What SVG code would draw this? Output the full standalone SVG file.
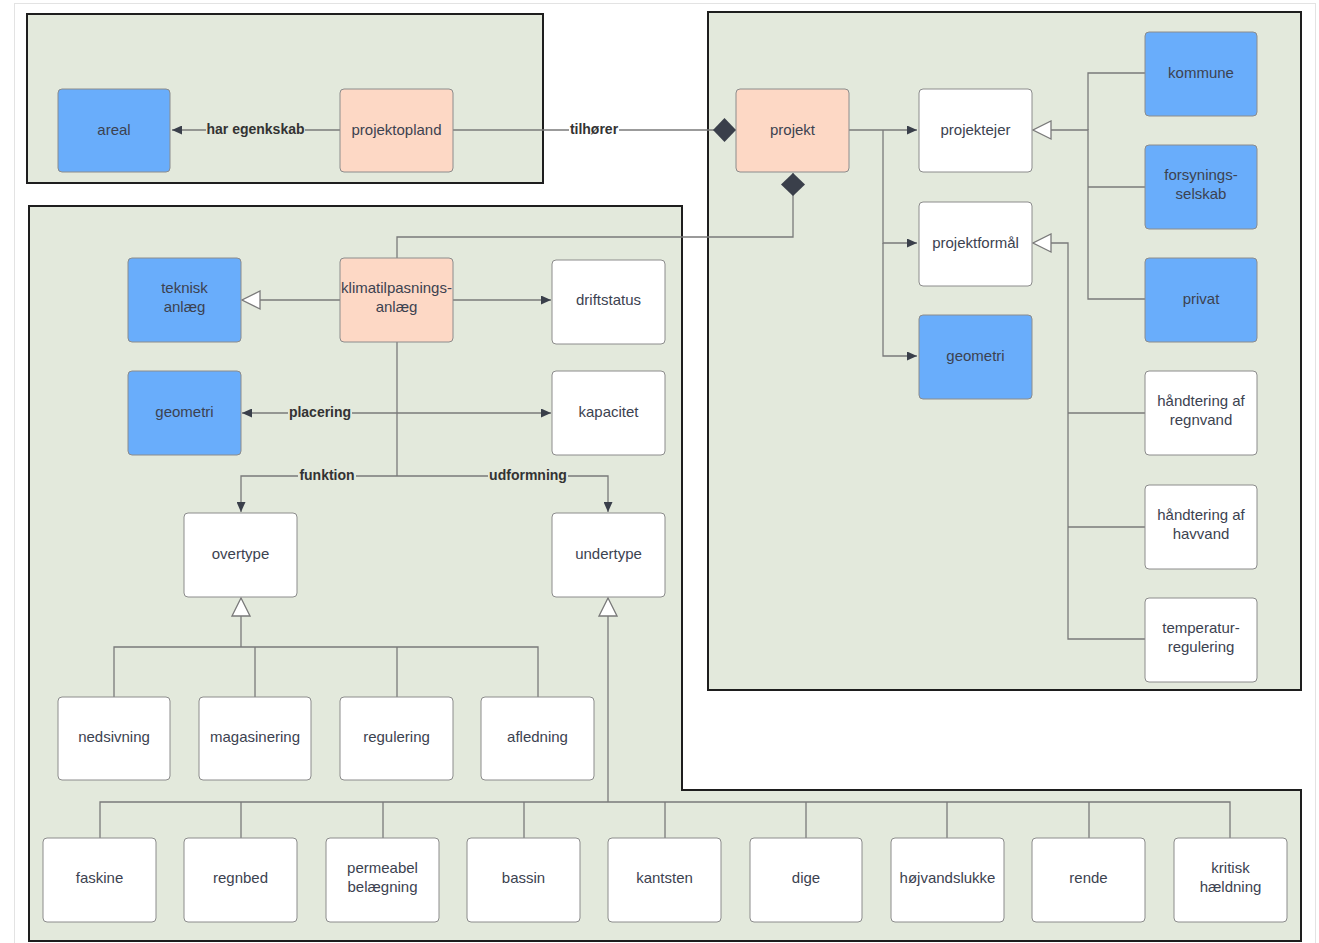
<svg xmlns="http://www.w3.org/2000/svg" width="1319" height="943" viewBox="0 0 1319 943">
<defs>
<style>
.cont{fill:#e3e9dc;stroke:#1e1e1e;stroke-width:2}
.n rect{stroke:#8c8c8c;stroke-width:1}
.w rect{fill:#ffffff}
.b rect{fill:#69adfb}
.p rect{fill:#fdd8c5}
.n text{font-family:"Liberation Sans",Arial,sans-serif;font-size:15px;fill:#3c4250;text-anchor:middle}
.c{fill:none;stroke:#7a7a7a;stroke-width:1.3}
.lbl{font-family:"Liberation Sans",Arial,sans-serif;font-size:14px;font-weight:bold;fill:#333;text-anchor:middle}
</style>
<marker id="arr" markerUnits="userSpaceOnUse" markerWidth="10" markerHeight="9" refX="10" refY="4.5" orient="auto">
<path d="M0,0 L10,4.5 L0,9 z" fill="#3a3f4a"/>
</marker>
<marker id="gen" markerUnits="userSpaceOnUse" markerWidth="20" markerHeight="20" refX="19" refY="10" orient="auto">
<path d="M1,1 L19,10 L1,19 z" fill="#ffffff" stroke="#7a7a7a" stroke-width="1.3"/>
</marker>
<marker id="dia" markerUnits="userSpaceOnUse" markerWidth="24" markerHeight="26" refX="23" refY="12" orient="auto">
<path d="M0,12 L11.5,0 L23,12 L11.5,24 z" fill="#3a3f4a"/>
</marker>
</defs>
<rect x="0" y="0" width="1319" height="943" fill="#ffffff"/>
<rect x="14.5" y="3.5" width="1301" height="945" fill="none" stroke="#e3e3e3" stroke-width="1"/>
<g id="containers">
<rect class="cont" x="27" y="14" width="516" height="169"/>
<rect class="cont" x="708" y="12" width="593" height="678"/>
<path class="cont" d="M29,206 L682,206 L682,790 L1301,790 L1301,941 L29,941 Z"/>
</g>
<g id="connectors">
<path class="c" d="M340,130 L172,130" marker-end="url(#arr)"/>
<path class="c" d="M453,130 L736,130" marker-end="url(#dia)"/>
<path class="c" d="M397,258 L397,237 L793,237 L793,173" marker-end="url(#dia)"/>
<path class="c" d="M849,130 L917,130" marker-end="url(#arr)"/>
<path class="c" d="M883,130 L883,243 L917,243" marker-end="url(#arr)"/>
<path class="c" d="M883,243 L883,356 L917,356" marker-end="url(#arr)"/>
<path class="c" d="M1145,299 L1088,299 L1088,130 L1033,130" marker-end="url(#gen)"/>
<path class="c" d="M1145,73 L1088,73 L1088,130"/>
<path class="c" d="M1145,187 L1088,187"/>
<path class="c" d="M1145,639 L1068,639 L1068,243 L1033,243" marker-end="url(#gen)"/>
<path class="c" d="M1145,413 L1068,413"/>
<path class="c" d="M1145,527 L1068,527"/>
<path class="c" d="M340,300 L242,300" marker-end="url(#gen)"/>
<path class="c" d="M453,300 L551,300" marker-end="url(#arr)"/>
<path class="c" d="M397,342 L397,476"/>
<path class="c" d="M397,413 L242,413" marker-end="url(#arr)"/>
<path class="c" d="M397,413 L551,413" marker-end="url(#arr)"/>
<path class="c" d="M397,476 L241,476 L241,512" marker-end="url(#arr)"/>
<path class="c" d="M397,476 L608,476 L608,512" marker-end="url(#arr)"/>
<path class="c" d="M241,647 L241,598" marker-end="url(#gen)"/>
<path class="c" d="M114,697 L114,647 L538,647 L538,697"/>
<path class="c" d="M255,647 L255,697 M397,647 L397,697"/>
<path class="c" d="M608,802 L608,598" marker-end="url(#gen)"/>
<path class="c" d="M100,838 L100,802 L1230,802 L1230,838"/>
<path class="c" d="M241,802 L241,838 M383,802 L383,838 M524,802 L524,838 M665,802 L665,838 M806,802 L806,838 M947,802 L947,838 M1089,802 L1089,838"/>
<rect x="206" y="121" width="99" height="17" fill="#e3e9dc"/>
<text class="lbl" x="255.5" y="134">har egenkskab</text>
<rect x="569" y="121" width="50" height="17" fill="#ffffff"/>
<text class="lbl" x="594" y="134">tilhører</text>
<rect x="288" y="404" width="64" height="17" fill="#e3e9dc"/>
<text class="lbl" x="320" y="417">placering</text>
<rect x="298" y="467" width="58" height="17" fill="#e3e9dc"/>
<text class="lbl" x="327" y="480">funktion</text>
<rect x="488" y="467" width="80" height="17" fill="#e3e9dc"/>
<text class="lbl" x="528" y="480">udformning</text>
</g>
<g id="areal" class="n b"><rect x="58" y="89" width="112" height="83" rx="4"/><text x="114" y="135">areal</text></g>
<g id="projektopland" class="n p"><rect x="340" y="89" width="113" height="83" rx="4"/><text x="396.5" y="135">projektopland</text></g>
<g id="projekt" class="n p"><rect x="736" y="89" width="113" height="83" rx="4"/><text x="792.5" y="135">projekt</text></g>
<g id="projektejer" class="n w"><rect x="919" y="89" width="113" height="83" rx="4"/><text x="975.5" y="135">projektejer</text></g>
<g id="projektformaal" class="n w"><rect x="919" y="202" width="113" height="84" rx="4"/><text x="975.5" y="248">projektformål</text></g>
<g id="geometri-projekt" class="n b"><rect x="919" y="315" width="113" height="84" rx="4"/><text x="975.5" y="361">geometri</text></g>
<g id="kommune" class="n b"><rect x="1145" y="32" width="112" height="84" rx="4"/><text x="1201" y="78">kommune</text></g>
<g id="forsyningsselskab" class="n b"><rect x="1145" y="145" width="112" height="84" rx="4"/><text x="1201" y="180">forsynings-</text><text x="1201" y="199">selskab</text></g>
<g id="privat" class="n b"><rect x="1145" y="258" width="112" height="84" rx="4"/><text x="1201" y="304">privat</text></g>
<g id="regnvand" class="n w"><rect x="1145" y="371" width="112" height="84" rx="4"/><text x="1201" y="406">håndtering af</text><text x="1201" y="425">regnvand</text></g>
<g id="havvand" class="n w"><rect x="1145" y="485" width="112" height="84" rx="4"/><text x="1201" y="520">håndtering af</text><text x="1201" y="539">havvand</text></g>
<g id="temperaturregulering" class="n w"><rect x="1145" y="598" width="112" height="84" rx="4"/><text x="1201" y="633">temperatur-</text><text x="1201" y="652">regulering</text></g>
<g id="tekniskanlaeg" class="n b"><rect x="128" y="258" width="113" height="84" rx="4"/><text x="184.5" y="293">teknisk</text><text x="184.5" y="312">anlæg</text></g>
<g id="klimatilpasningsanlaeg" class="n p"><rect x="340" y="258" width="113" height="84" rx="4"/><text x="396.5" y="293">klimatilpasnings-</text><text x="396.5" y="312">anlæg</text></g>
<g id="driftstatus" class="n w"><rect x="552" y="260" width="113" height="84" rx="4"/><text x="608.5" y="305">driftstatus</text></g>
<g id="geometri-anlaeg" class="n b"><rect x="128" y="371" width="113" height="84" rx="4"/><text x="184.5" y="417">geometri</text></g>
<g id="kapacitet" class="n w"><rect x="552" y="371" width="113" height="84" rx="4"/><text x="608.5" y="417">kapacitet</text></g>
<g id="overtype" class="n w"><rect x="184" y="513" width="113" height="84" rx="4"/><text x="240.5" y="559">overtype</text></g>
<g id="undertype" class="n w"><rect x="552" y="513" width="113" height="84" rx="4"/><text x="608.5" y="559">undertype</text></g>
<g id="nedsivning" class="n w"><rect x="58" y="697" width="112" height="83" rx="4"/><text x="114" y="742">nedsivning</text></g>
<g id="magasinering" class="n w"><rect x="199" y="697" width="112" height="83" rx="4"/><text x="255" y="742">magasinering</text></g>
<g id="regulering" class="n w"><rect x="340" y="697" width="113" height="83" rx="4"/><text x="396.5" y="742">regulering</text></g>
<g id="afledning" class="n w"><rect x="481" y="697" width="113" height="83" rx="4"/><text x="537.5" y="742">afledning</text></g>
<g id="faskine" class="n w"><rect x="43" y="838" width="113" height="84" rx="4"/><text x="99.5" y="883">faskine</text></g>
<g id="regnbed" class="n w"><rect x="184" y="838" width="113" height="84" rx="4"/><text x="240.5" y="883">regnbed</text></g>
<g id="permeabel" class="n w"><rect x="326" y="838" width="113" height="84" rx="4"/><text x="382.5" y="873">permeabel</text><text x="382.5" y="892">belægning</text></g>
<g id="bassin" class="n w"><rect x="467" y="838" width="113" height="84" rx="4"/><text x="523.5" y="883">bassin</text></g>
<g id="kantsten" class="n w"><rect x="608" y="838" width="113" height="84" rx="4"/><text x="664.5" y="883">kantsten</text></g>
<g id="dige" class="n w"><rect x="750" y="838" width="112" height="84" rx="4"/><text x="806" y="883">dige</text></g>
<g id="hoejvandslukke" class="n w"><rect x="891" y="838" width="113" height="84" rx="4"/><text x="947.5" y="883">højvandslukke</text></g>
<g id="rende" class="n w"><rect x="1032" y="838" width="113" height="84" rx="4"/><text x="1088.5" y="883">rende</text></g>
<g id="kritiskhaeldning" class="n w"><rect x="1174" y="838" width="113" height="84" rx="4"/><text x="1230.5" y="873">kritisk</text><text x="1230.5" y="892">hældning</text></g>
</svg>
